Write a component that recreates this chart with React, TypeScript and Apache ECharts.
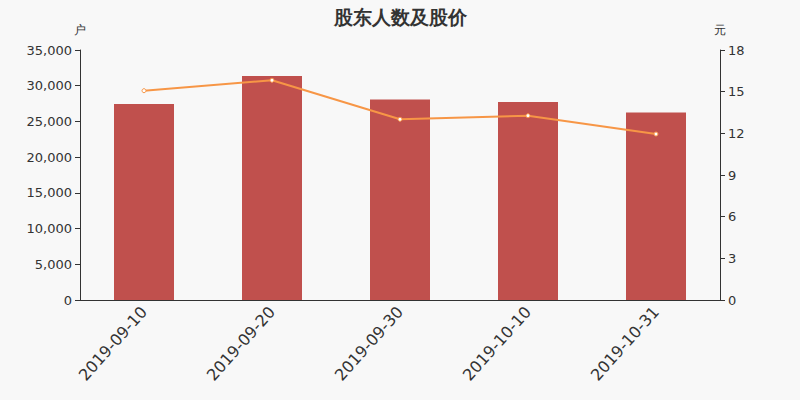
import React, { useEffect, useRef } from "react";
import * as echarts from "echarts";

const categories = ["2019-09-10", "2019-09-20", "2019-09-30", "2019-10-10", "2019-10-31"];
const holders = [27440, 31360, 28080, 27720, 26260];
const prices = [15.07, 15.82, 13.01, 13.27, 11.95];

export default function App() {
  const ref = useRef<HTMLDivElement>(null);
  useEffect(() => {
    const chart = echarts.init(ref.current!, null, { renderer: "svg" });
    const fmt = (v: number) => v.toString().replace(/\B(?=(\d{3})+(?!\d))/g, ",");
    chart.setOption({
      animation: false,
      backgroundColor: "#f8f8f8",
      textStyle: { fontFamily: "DejaVu Sans" },
      title: {
        text: "股东人数及股价",
        left: "center",
        top: 2,
        textStyle: { fontSize: 19, fontWeight: "bold", color: "#333" },
      },
      grid: { left: 80, right: 80, top: 50, bottom: 100 },
      xAxis: {
        type: "category",
        data: categories,
        axisLine: { lineStyle: { color: "#333" } },
        axisTick: { lineStyle: { color: "#333" } },
        axisLabel: { rotate: 48, fontSize: 16, color: "#333", margin: 9 },
      },
      yAxis: [
        {
          type: "value",
          name: "户",
          min: 0,
          max: 35000,
          interval: 5000,
          nameTextStyle: { color: "#333", fontSize: 12, padding: [0, 0, 0, 0] },
          nameGap: 14,
          axisLine: { show: true, lineStyle: { color: "#333" } },
          axisTick: { show: true },
          splitLine: { show: false },
          axisLabel: { color: "#333", fontSize: 13, formatter: fmt },
        },
        {
          type: "value",
          name: "元",
          min: 0,
          max: 18,
          interval: 3,
          nameTextStyle: { color: "#333", fontSize: 12, padding: [0, 0, 0, 0] },
          nameGap: 14,
          axisLine: { show: true, lineStyle: { color: "#333" } },
          axisTick: { show: true },
          splitLine: { show: false },
          axisLabel: { color: "#333", fontSize: 13 },
        },
      ],
      series: [
        {
          type: "bar",
          data: holders,
          barWidth: 60,
          itemStyle: { color: "#c0504d" },
        },
        {
          type: "line",
          yAxisIndex: 1,
          data: prices,
          symbol: "circle",
          symbolSize: 4,
          itemStyle: { color: "#fff", borderColor: "#f79646", borderWidth: 1 },
          lineStyle: { color: "#f79646", width: 2 },
        },
      ],
    });
    return () => chart.dispose();
  }, []);
  return (
    <div
      ref={ref}
      style={{ position: "fixed", left: 0, top: 0, width: 800, height: 400 }}
    />
  );
}
